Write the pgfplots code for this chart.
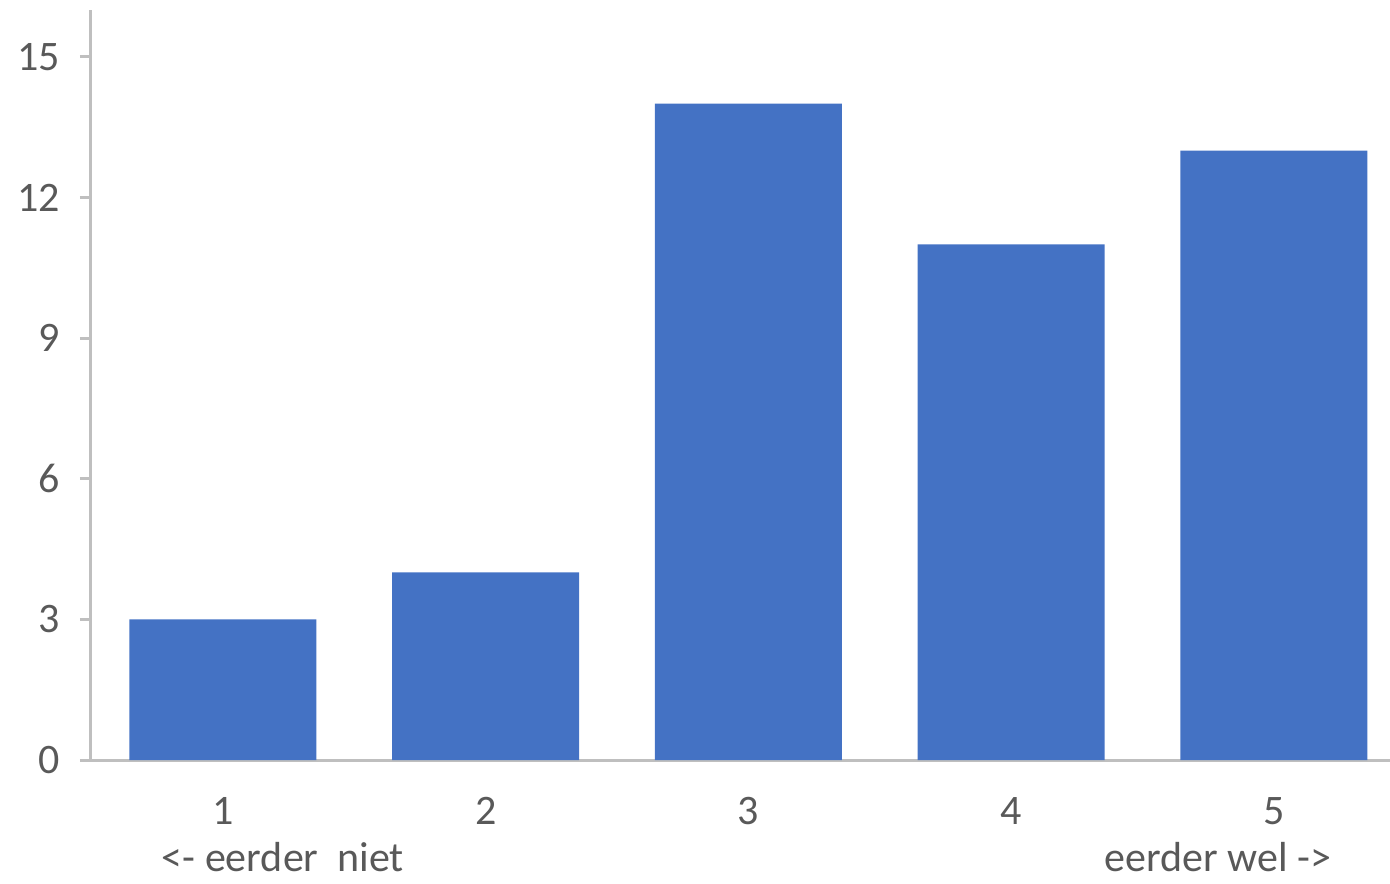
\documentclass[border=0pt]{standalone}
\usepackage{pgfplots}
\pgfplotsset{compat=1.18}
\usepackage{fontspec}
\setmainfont{Carlito}
\definecolor{barblue}{HTML}{4472C4}
\definecolor{txtgray}{HTML}{595959}
\definecolor{axgray}{HTML}{BFBFBF}
\begin{document}
\begin{tikzpicture}
\begin{axis}[
  scale only axis,
  width=650pt, height=375pt,
  xmin=0.494, xmax=5.442,
  ymin=0, ymax=16,
  axis x line*=bottom,
  axis y line*=left,
  axis line style={axgray, line width=1.5pt},
  xtick={1,2,3,4,5},
  xtick style={draw=none},
  ytick={0,3,6,9,12,15},
  ytick style={axgray, line width=1.5pt},
  tick align=outside,
  major tick length=5pt,
  /pgf/number format/assume math mode=true,
  tick label style={font=\fontsize{21}{25}\selectfont, text=txtgray},
  yticklabel style={xshift=-6.5pt},
  xticklabel style={yshift=-10pt},
  ybar, bar width=93.5pt,
  clip=false,
]
\addplot[fill=barblue, draw=none] coordinates {(1,3) (2,4) (3,14) (4,11) (5,13)};
\node[font=\fontsize{21}{25}\selectfont, text=txtgray] at (axis cs:1.228,0) [yshift=-48.5pt] {<- eerder\ \ niet};
\node[font=\fontsize{21}{25}\selectfont, text=txtgray] at (axis cs:4.787,0) [yshift=-48.5pt] {eerder wel ->};
\coordinate (sw) at (rel axis cs:0,0);
\coordinate (ne) at (rel axis cs:1,1);
\end{axis}
\pgfresetboundingbox
\path ([shift={(-45pt,-61.5pt)}]sw) rectangle ([shift={(0pt,5pt)}]ne);
\end{tikzpicture}
\end{document}
